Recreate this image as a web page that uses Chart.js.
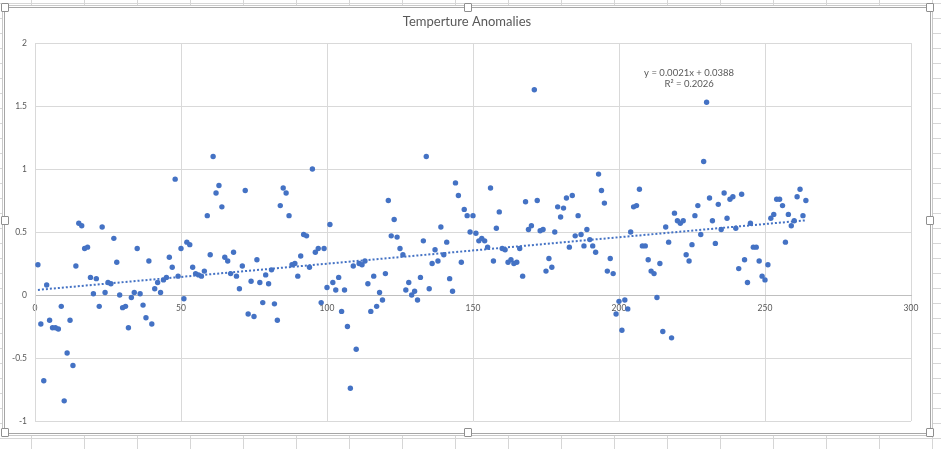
<!DOCTYPE html>
<html>
<head>
<meta charset="utf-8">
<script src="https://cdn.jsdelivr.net/npm/chart.js@4/dist/chart.umd.min.js"></script>
<style>
  html, body { margin: 0; padding: 0; }
  body {
    width: 941px; height: 449px; position: relative; overflow: hidden;
    background-color: #fff;
    background-image:
      linear-gradient(to right, #d6d6d6 1px, transparent 1px),
      linear-gradient(to bottom, #d6d6d6 1px, transparent 1px);
    background-size: 53px 100%, 100% 15px;
    background-position: 31px 0, 0 3px;
  }
  #frame {
    position: absolute; left: 4px; top: 7px; width: 925px; height: 425px;
    background: #fff; border: 1px solid #a6a6a6;
    box-shadow: 0 0 0 1px #fff, 0 0 0 2px #c8c8c8;
  }
  .handle {
    position: absolute; width: 6px; height: 7px; background: #fff;
    border: 1px solid #8f8f8f; border-radius: 1px;
  }
  canvas { position: absolute; left: 0; top: 0; }
</style>
</head>
<body>
<div id="frame"></div>
<canvas id="tempChart" width="941" height="449"></canvas>
<script>
// anomaly values, one per x step (1, 2, 3 ...)
const anomalies = [
  0.24, -0.23, -0.68, 0.08, -0.20, -0.26, -0.26, -0.27, -0.09, -0.84,
  -0.46, -0.20, -0.56, 0.23, 0.57, 0.55, 0.37, 0.38, 0.14, 0.01,
  0.13, -0.09, 0.54, 0.02, 0.10, 0.09, 0.45, 0.26, 0.00, -0.10,
  -0.09, -0.26, -0.02, 0.02, 0.37, 0.01, -0.08, -0.18, 0.27, -0.23,
  0.05, 0.10, 0.02, 0.12, 0.14, 0.30, 0.22, 0.92, 0.15, 0.37,
  -0.03, 0.42, 0.40, 0.22, 0.17, 0.16, 0.15, 0.19, 0.63, 0.32,
  1.10, 0.81, 0.87, 0.70, 0.30, 0.27, 0.17, 0.34, 0.15, 0.05,
  0.23, 0.83, -0.15, 0.11, -0.17, 0.28, 0.10, -0.06, 0.16, 0.09,
  0.20, -0.07, -0.20, 0.71, 0.85, 0.81, 0.63, 0.24, 0.25, 0.15,
  0.31, 0.48, 0.47, 0.22, 1.00, 0.34, 0.37, -0.06, 0.37, 0.06,
  0.56, 0.10, 0.04, 0.14, -0.13, 0.04, -0.25, -0.74, 0.23, -0.43,
  0.25, 0.24, 0.27, 0.09, -0.13, 0.15, -0.09, 0.02, -0.04, 0.17,
  0.75, 0.47, 0.60, 0.46, 0.37, 0.32, 0.04, 0.10, 0.00, 0.03,
  -0.04, 0.14, 0.43, 1.10, 0.05, 0.25, 0.36, 0.27, 0.54, 0.32,
  0.42, 0.13, 0.03, 0.89, 0.79, 0.26, 0.68, 0.63, 0.50, 0.63,
  0.49, 0.43, 0.45, 0.43, 0.38, 0.85, 0.27, 0.53, 0.66, 0.37,
  0.36, 0.26, 0.28, 0.25, 0.26, 0.37, 0.15, 0.74, 0.52, 0.55,
  1.63, 0.75, 0.51, 0.52, 0.19, 0.29, 0.22, 0.50, 0.70, 0.62,
  0.69, 0.77, 0.38, 0.79, 0.47, 0.63, 0.48, 0.39, 0.52, 0.44,
  0.39, 0.34, 0.96, 0.83, 0.73, 0.19, 0.29, 0.17, -0.15, -0.05,
  -0.28, -0.04, -0.11, 0.50, 0.70, 0.71, 0.84, 0.39, 0.39, 0.28,
  0.19, 0.17, -0.02, 0.25, -0.29, 0.54, 0.42, -0.34, 0.65, 0.59,
  0.57, 0.59, 0.32, 0.27, 0.40, 0.63, 0.71, 0.48, 1.06, 1.53,
  0.77, 0.59, 0.41, 0.72, 0.52, 0.81, 0.61, 0.76, 0.78, 0.53,
  0.21, 0.80, 0.28, 0.10, 0.57, 0.38, 0.38, 0.27, 0.15, 0.12,
  0.24, 0.61, 0.64, 0.76, 0.76, 0.71, 0.42, 0.64, 0.55, 0.59,
  0.78, 0.84, 0.63, 0.75
];
const firstX = 1;

// excel linear trendline, as printed on the chart
const trendSlope = 0.0021;
const trendIntercept = 0.0388;
const trendR2 = 0.2026;

const xTicks = [0, 50, 100, 150, 200, 250, 300];
const yTicks = [-1, -0.5, 0, 0.5, 1, 1.5, 2];

const blue = '#4472C4';
const textGrey = '#595959';
const gridGrey = '#d9d9d9';

const points = anomalies.map((v, i) => ({ x: firstX + i, y: v }));
const lastX = points[points.length - 1].x;
const trend = [firstX, lastX].map(x => ({ x: x, y: trendSlope * x + trendIntercept }));

// selection handles round the chart object
[[4, 7], [467, 7], [929, 7], [4, 220], [929, 220], [4, 432], [467, 432], [929, 432]].forEach(([l, t]) => {
  const h = document.createElement('div');
  h.className = 'handle';
  h.style.left = (l - 3) + 'px';
  h.style.top = (t - 4) + 'px';
  document.body.appendChild(h);
});

// writes the trendline equation near the upper right
const equationLabel = {
  id: 'equationLabel',
  afterDatasetsDraw(chart) {
    const { ctx, scales } = chart;
    const x = scales.x.getPixelForValue(224);
    const y = scales.y.getPixelForValue(1.765);
    ctx.save();
    ctx.font = '9.5px Lato';
    ctx.fillStyle = textGrey;
    ctx.textAlign = 'center';
    ctx.textBaseline = 'middle';
    ctx.fillText('y = ' + trendSlope + 'x + ' + trendIntercept, x, y);
    ctx.fillText('R² = ' + trendR2, x, y + 11.5);
    ctx.restore();
  }
};

// centre the title on the whole chart object, not on the padded box
const titleSpan = {
  id: 'titleSpan',
  afterLayout(chart) {
    const t = chart.titleBlock;
    if (!t) return;
    t.left = 0;
    t.right = 934;
    t.width = 934;
  }
};

const tickFont = { family: 'Lato', size: 8.5 };

new Chart(document.querySelector('#tempChart'), {
  type: 'scatter',
  data: {
    datasets: [
      {
        type: 'line',
        label: 'Linear trend',
        data: trend,
        borderColor: blue,
        borderWidth: 2,
        borderDash: [2, 2],
        pointRadius: 0,
        fill: false
      },
      {
        label: 'Anomaly',
        data: points,
        backgroundColor: blue,
        borderWidth: 0,
        pointRadius: 2.7,
        clip: false
      }
    ]
  },
  options: {
    responsive: false,
    animation: false,
    layout: { padding: { left: 0, right: 30, bottom: 28 } },
    plugins: {
      legend: { display: false },
      tooltip: { enabled: false },
      title: {
        display: true,
        text: 'Temperture Anomalies',
        color: textGrey,
        font: { family: 'Lato', size: 13, weight: 'normal' },
        padding: { top: 14, bottom: 13.5 }
      }
    },
    scales: {
      x: {
        type: 'linear',
        position: { y: 0 },
        min: 0,
        max: 300,
        afterBuildTicks: s => { s.ticks = xTicks.map(v => ({ value: v })); },
        grid: { color: gridGrey, drawTicks: false },
        border: { color: '#bfbfbf' },
        ticks: { color: textGrey, font: tickFont, padding: 8, maxRotation: 0, callback: v => String(v) }
      },
      y: {
        min: -1,
        max: 2,
        afterBuildTicks: s => { s.ticks = yTicks.map(v => ({ value: v })); },
        afterFit: s => { s.width = 35; },
        grid: { color: gridGrey, drawTicks: false },
        border: { color: gridGrey },
        ticks: { color: textGrey, font: tickFont, padding: 8, callback: v => String(v) }
      }
    }
  },
  plugins: [equationLabel, titleSpan]
});
</script>
</body>
</html>
